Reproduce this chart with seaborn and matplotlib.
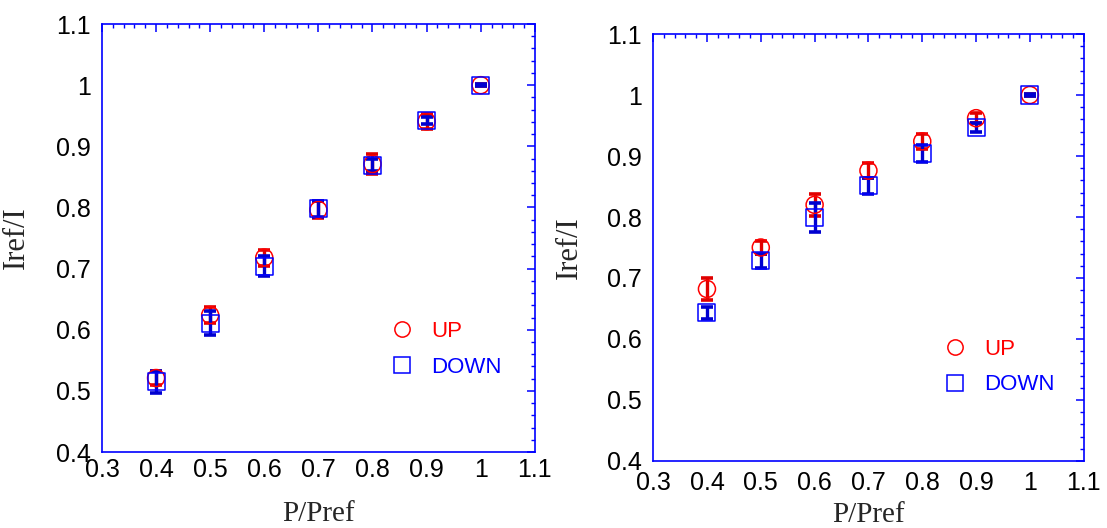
import numpy as np
import pandas as pd
import matplotlib
matplotlib.use("Agg")
import matplotlib.pyplot as plt
import seaborn as sns
from matplotlib.lines import Line2D
from matplotlib.ticker import MultipleLocator

# Dane
p_ratio = [0.4, 0.5, 0.6, 0.7, 0.8, 0.9, 1.0]

left_up = [0.521, 0.624, 0.718, 0.796, 0.871, 0.941, 1.0]
left_up_err = [0.012, 0.013, 0.013, 0.014, 0.017, 0.012, 0.002]
left_down = [0.515, 0.611, 0.704, 0.798, 0.869, 0.942, 1.0]
left_down_err = [0.018, 0.019, 0.016, 0.013, 0.010, 0.006, 0.002]

right_up = [0.682, 0.750, 0.820, 0.876, 0.924, 0.962, 1.0]
right_up_err = [0.018, 0.010, 0.018, 0.012, 0.012, 0.008, 0.002]
right_down = [0.643, 0.728, 0.799, 0.851, 0.904, 0.947, 1.0]
right_down_err = [0.010, 0.011, 0.024, 0.013, 0.014, 0.007, 0.002]

RED = '#ff0000'
BLUE = '#0000ff'
ERR_RED = '#e00000'
ERR_BLUE = '#0000d0'

sns.set_style('white')
plt.rcParams['font.family'] = ['Liberation Sans', 'DejaVu Sans']

fig = plt.figure(figsize=(11.07, 5.28), dpi=100)
ax_left = fig.add_axes([0.0921, 0.1439, 0.391, 0.8106])
ax_right = fig.add_axes([0.590, 0.1269, 0.389, 0.8087])


def fmt_tick(v, _):
    s = f'{v:.1f}'
    return '1' if s == '1.0' else s


def draw_panel(ax, up, up_err, down, down_err, legend_xy, xpad):
    df_up = pd.DataFrame({'x': p_ratio, 'y': up})
    df_down = pd.DataFrame({'x': p_ratio, 'y': down})

    # słupki błędów
    ax.errorbar(p_ratio, up, yerr=up_err, fmt='none', ecolor=ERR_RED,
                elinewidth=2.4, capsize=4, capthick=2.6, zorder=2)
    ax.errorbar(p_ratio, down, yerr=down_err, fmt='none', ecolor=ERR_BLUE,
                elinewidth=2.4, capsize=4, capthick=2.6, zorder=3)

    # markery (puste kółka i kwadraty)
    sns.scatterplot(data=df_up, x='x', y='y', marker='o', s=150,
                    facecolor='none', edgecolor=RED, linewidth=1.1,
                    ax=ax, zorder=4)
    sns.scatterplot(data=df_down, x='x', y='y', marker='s', s=150,
                    facecolor='none', edgecolor=BLUE, linewidth=1.1,
                    ax=ax, zorder=4)

    ax.set_xlim(0.3, 1.1)
    ax.set_ylim(0.4, 1.1)
    ax.xaxis.set_major_locator(MultipleLocator(0.1))
    ax.xaxis.set_minor_locator(MultipleLocator(0.02))
    ax.yaxis.set_major_locator(MultipleLocator(0.1))
    ax.yaxis.set_minor_locator(MultipleLocator(0.02))
    ax.xaxis.set_major_formatter(plt.FuncFormatter(fmt_tick))
    ax.yaxis.set_major_formatter(plt.FuncFormatter(fmt_tick))

    ax.tick_params(which='both', direction='in', top=True, right=True,
                   color=BLUE, labelsize=18, labelcolor='black')
    ax.tick_params(which='major', length=6, width=1.1)
    ax.tick_params(which='minor', length=3, width=1)
    ax.tick_params(axis='x', pad=xpad)
    ax.tick_params(axis='y', pad=8)
    for sp in ax.spines.values():
        sp.set_color(BLUE)
        sp.set_linewidth(1.2)

    ax.set_xlabel('P/Pref', family=['Liberation Serif'], fontsize=21)
    ax.set_ylabel('Iref/I', family=['Liberation Serif'], fontsize=22)

    handles = [Line2D([], [], ls='none', marker='o', ms=11, mfc='none', mec=RED, mew=1.1),
               Line2D([], [], ls='none', marker='s', ms=11, mfc='none', mec=BLUE, mew=1.1)]
    leg = ax.legend(handles, ['UP', 'DOWN'], loc='center left', bbox_to_anchor=legend_xy,
                    frameon=False, fontsize=16, handlelength=1.0, handletextpad=0.8,
                    labelspacing=0.65, borderaxespad=0, borderpad=0)
    leg.get_texts()[0].set_color(RED)
    leg.get_texts()[1].set_color(BLUE)


draw_panel(ax_left, left_up, left_up_err, left_down, left_down_err, (0.668, 0.24), 4)
draw_panel(ax_right, right_up, right_up_err, right_down, right_down_err, (0.676, 0.22), 7)

ax_left.yaxis.set_label_coords(-0.165, 0.5)
ax_left.xaxis.set_label_coords(0.5, -0.115)
ax_right.yaxis.set_label_coords(-0.16, 0.5)
ax_right.xaxis.set_label_coords(0.5, -0.095)

fig.savefig('out.png', dpi=100)
